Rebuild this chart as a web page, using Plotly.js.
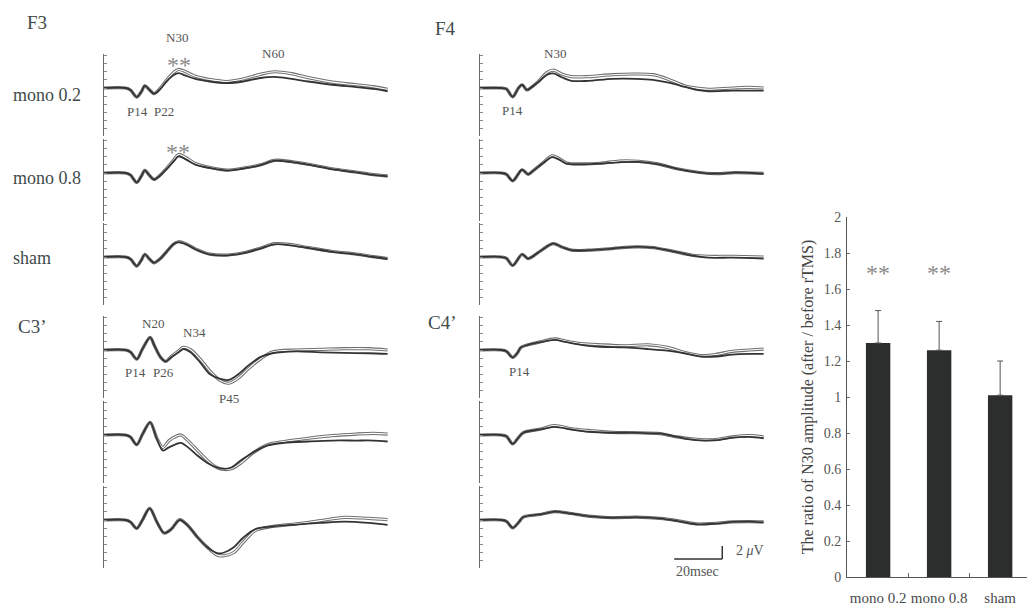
<!DOCTYPE html>
<html><head><meta charset="utf-8">
<script src="https://cdn.plot.ly/plotly-3.0.1.min.js"></script>
<style>html,body{margin:0;padding:0;background:#fff}</style>
</head><body><div id="chart" style="width:1027px;height:605px"></div>
<script>
// ===== Waveform data: time (ms) and amplitude (µV, plotted upward) =====
// F3
const f3_m02_t = [0, 9, 11, 13.6, 15.5, 17, 19, 20.8, 23, 26, 29, 31, 34, 38, 44, 51, 58, 65, 71, 78, 85, 95, 105, 112, 118];
const f3_m02_before = [0, 0, -0.3, -1.4, -0.6, 0.35, -0.3, -0.87, -0.3, 1.0, 2.0, 2.3, 1.9, 1.4, 1.0, 0.77, 1.0, 1.54, 1.7, 1.4, 1.0, 0.5, 0.15, -0.15, -0.5];
const f3_m02_after  = [0, 0, -0.3, -1.4, -0.6, 0.35, -0.3, -0.87, -0.2, 1.2, 2.4, 2.85, 2.5, 1.8, 1.3, 1.0, 1.4, 2.1, 2.5, 2.2, 1.6, 0.9, 0.5, 0.2, -0.2];
const f3_m08_t = f3_m02_t;
const f3_m08_before = [0, 0, -0.3, -1.45, -0.5, 0.4, -0.4, -1.0, -0.5, 0.6, 1.8, 2.55, 2.1, 1.3, 0.77, 0.4, 0.7, 1.2, 1.9, 1.7, 1.3, 0.6, 0.1, -0.3, -0.5];
const f3_m08_after  = [0, 0, -0.3, -1.45, -0.5, 0.4, -0.4, -1.0, -0.45, 0.7, 2.0, 2.85, 2.4, 1.45, 0.85, 0.45, 0.75, 1.25, 1.95, 1.75, 1.35, 0.65, 0.15, -0.25, -0.45];
const f3_sham_t = f3_m02_t;
const f3_sham_before = [0, 0, -0.3, -1.4, -0.5, 0.4, -0.35, -0.9, -0.4, 0.8, 2.0, 2.3, 2.0, 1.2, 0.4, 0.25, 0.6, 1.3, 1.95, 1.8, 1.4, 0.8, 0.4, 0.0, -0.3];
const f3_sham_after  = [0, 0, -0.3, -1.4, -0.5, 0.4, -0.35, -0.9, -0.4, 0.8, 2.0, 2.35, 2.05, 1.25, 0.45, 0.3, 0.65, 1.35, 2.05, 1.9, 1.45, 0.85, 0.45, 0.05, -0.25];
// C3'
const c3_m02_t = [0, 9, 11, 13.6, 16, 19.2, 21, 23.5, 25.7, 28, 31, 33, 36, 40, 44, 48, 52, 56, 60, 65, 70, 80, 90, 100, 110, 118];
const c3_m02_before = [0, 0, -0.3, -1.4, 0.15, 1.95, 0.65, -1.1, -1.75, -1.1, -0.35, 0.15, -0.35, -1.9, -3.7, -4.4, -4.6, -3.7, -2.4, -1.1, -0.5, -0.2, -0.35, -0.45, -0.5, -0.6];
const c3_m02_after  = [0, 0, -0.3, -1.4, 0.15, 1.95, 0.65, -1.1, -1.75, -1.0, -0.15, 0.4, 0.05, -1.4, -3.2, -4.6, -5.1, -4.3, -2.9, -1.4, -0.3, 0.0, 0.1, 0.2, 0.2, 0.0];
const c3_m08_t = [0, 9, 11, 13.6, 16, 19.2, 22, 24.5, 27, 30, 32, 35, 39, 43, 47, 50, 53, 57, 62, 68, 75, 85, 95, 105, 112, 118];
const c3_m08_before = [0, 0, -0.3, -1.5, 0.1, 1.95, -0.6, -2.4, -1.9, -1.4, -1.2, -1.9, -3.2, -4.3, -5.0, -5.2, -5.0, -3.9, -2.7, -1.6, -1.2, -1.0, -0.85, -0.85, -0.85, -1.0];
const c3_m08_after  = [0, 0, -0.3, -1.5, 0.1, 1.95, -0.5, -1.9, -0.9, -0.2, 0.0, -0.9, -2.4, -3.9, -5.0, -5.3, -5.2, -4.3, -2.75, -1.5, -1.0, -0.5, -0.1, 0.15, 0.25, 0.15];
const c3_sham_t = [0, 9, 11, 13.6, 16, 19, 22, 25, 28, 31.5, 35, 39, 43, 47, 50, 54, 58, 63, 70, 80, 90, 100, 110, 118];
const c3_sham_before = [0, 0, -0.3, -1.3, 0.0, 1.8, -0.3, -2.0, -1.4, 0.0, -0.9, -2.7, -4.2, -5.1, -5.0, -4.2, -2.7, -1.4, -1.0, -0.7, -0.45, -0.25, -0.45, -0.75];
const c3_sham_after  = [0, 0, -0.3, -1.3, 0.0, 1.8, -0.3, -2.0, -1.4, 0.05, -0.9, -2.7, -4.2, -5.4, -5.5, -5.0, -3.4, -1.6, -1.0, -0.6, -0.1, 0.4, 0.25, 0.05];
// F4
const f4_m02_t = [0, 9, 11, 13.6, 16, 17.5, 19.5, 21, 24, 28, 30.5, 34, 38, 45, 55, 65, 72, 78, 85, 90, 95, 105, 112, 118];
const f4_m02_before = [0, 0, -0.15, -1.35, 0, 0.5, -0.3, 0, 0.85, 2.05, 2.25, 1.65, 1.1, 1.1, 1.4, 1.4, 1.25, 0.85, 0.2, -0.3, -0.5, -0.4, -0.4, -0.4];
const f4_m02_after  = [0, 0, -0.15, -1.35, 0, 0.5, -0.3, 0, 0.9, 2.4, 2.75, 2.15, 1.75, 1.75, 2.05, 2.15, 2.05, 1.4, 0.35, 0, -0.2, 0, 0.1, 0];
const f4_m08_t = [0, 9, 11, 13.6, 17.5, 20, 22, 26, 30, 33, 36, 42, 50, 58, 66, 74, 82, 90, 98, 106, 113, 118];
const f4_m08_before = [0, 0, -0.2, -1.2, 0.5, -0.2, 0.3, 1.45, 2.45, 2.05, 1.45, 1.35, 1.45, 1.65, 1.7, 1.35, 0.65, 0.15, -0.1, 0.05, 0, -0.1];
const f4_m08_after  = [0, 0, -0.2, -1.2, 0.5, -0.2, 0.3, 1.5, 2.65, 2.2, 1.55, 1.4, 1.5, 1.85, 1.8, 1.4, 0.65, 0.15, -0.1, 0.05, 0, -0.05];
const f4_sham_t = [0, 9, 11, 13.6, 17.5, 20, 22, 26, 30.5, 34, 38, 45, 55, 65, 72, 80, 88, 95, 105, 118];
const f4_sham_before = [0, 0, -0.2, -1.3, 0.4, -0.25, 0.1, 1.15, 2.05, 1.55, 1.05, 1.05, 1.3, 1.55, 1.45, 0.9, 0.25, -0.1, -0.1, -0.25];
const f4_sham_after  = [0, 0, -0.2, -1.3, 0.4, -0.25, 0.1, 1.15, 2.05, 1.55, 1.05, 1.05, 1.3, 1.55, 1.45, 0.9, 0.3, 0.1, 0.1, 0];
// C4'
const c4_m02_t = [0, 9, 11, 13.6, 15.5, 17, 20, 25, 31, 36, 42, 50, 60, 70, 78, 85, 92, 98, 105, 112, 118];
const c4_m02_before = [0, 0, -0.2, -1.15, -0.5, 0.4, 0.8, 1.2, 1.55, 1.2, 0.8, 0.5, 0.4, 0.15, -0.1, -0.5, -1.0, -1.0, -0.7, -0.6, -0.6];
const c4_m02_after  = [0, 0, -0.2, -1.15, -0.5, 0.4, 0.8, 1.25, 1.7, 1.35, 1.0, 0.8, 0.65, 0.8, 0.4, -0.35, -0.85, -0.7, -0.2, 0, 0.15];
const c4_m08_t = [0, 9, 11, 13.6, 16, 18, 25, 31, 38, 45, 55, 65, 75, 82, 90, 98, 105, 112, 118];
const c4_m08_before = [0, 0, -0.2, -1.35, -0.4, 0.35, 0.85, 1.25, 0.85, 0.5, 0.35, 0.35, 0.2, -0.3, -0.8, -0.8, -0.4, -0.3, -0.5];
const c4_m08_after  = [0, 0, -0.2, -1.35, -0.4, 0.35, 0.9, 1.45, 0.95, 0.7, 0.4, 0.35, 0.2, -0.3, -0.65, -0.7, -0.3, -0.1, -0.3];
const c4_sham_t = c4_m08_t;
const c4_sham_before = [0, 0, -0.2, -1.2, -0.4, 0.45, 0.85, 1.3, 1.0, 0.6, 0.35, 0.45, 0.25, -0.15, -0.65, -0.55, -0.3, -0.25, -0.35];
const c4_sham_after  = [0, 0, -0.2, -1.2, -0.4, 0.45, 0.85, 1.3, 1.0, 0.6, 0.35, 0.45, 0.25, -0.1, -0.6, -0.5, -0.3, -0.25, -0.3];

// ===== Bar chart data =====
const barCategories = ['mono 0.2', 'mono 0.8', 'sham'];
const barValues = [1.30, 1.26, 1.01];
const barErrors = [0.18, 0.16, 0.19];
const barSignificance = ['**', '**', ''];
const barTicks = [0, 0.2, 0.4, 0.6, 0.8, 1, 1.2, 1.4, 1.6, 1.8, 2];

// scale bar
const scaleMs = 20, scaleUv = 2;

// ===== Layout helpers =====
const W = 1027, H = 605;
const px = x => x / W, py = y => 1 - y / H;
const SERIF = "'Liberation Serif', 'Times New Roman', serif";

const panels = [
  [f3_m02_t, f3_m02_before, f3_m02_after],
  [f3_m08_t, f3_m08_before, f3_m08_after],
  [f3_sham_t, f3_sham_before, f3_sham_after],
  [c3_m02_t, c3_m02_before, c3_m02_after],
  [c3_m08_t, c3_m08_before, c3_m08_after],
  [c3_sham_t, c3_sham_before, c3_sham_after],
  [f4_m02_t, f4_m02_before, f4_m02_after],
  [f4_m08_t, f4_m08_before, f4_m08_after],
  [f4_sham_t, f4_sham_before, f4_sham_after],
  [c4_m02_t, c4_m02_before, c4_m02_after],
  [c4_m08_t, c4_m08_before, c4_m08_after],
  [c4_sham_t, c4_sham_before, c4_sham_after]
];
const rowBase = [88, 173, 257, 350, 435, 520];
const colX = [[104, 390], [480, 766]];
const PXPERUV = 6.5, ABOVE = 34, BELOW = 48;

const data = [];
const layout = {
  width: W, height: H, autosize: false,
  margin: {l: 0, r: 0, t: 0, b: 0},
  paper_bgcolor: '#fff', plot_bgcolor: 'rgba(0,0,0,0)',
  showlegend: false,
  font: {family: SERIF, color: '#444'},
  annotations: [], shapes: []
};

panels.forEach((p, i) => {
  const n = i + 1, col = i < 6 ? 0 : 1, row = i % 6;
  const xa = 'x' + n, ya = 'y' + n;
  const line = {shape: 'spline', smoothing: 0.9};
  data.push({x: p[0], y: p[2], xaxis: xa, yaxis: ya, mode: 'lines', line: Object.assign({color: '#6f6f6f', width: 3.2}, line), hoverinfo: 'skip'});
  data.push({x: p[0], y: p[2], xaxis: xa, yaxis: ya, mode: 'lines', line: Object.assign({color: '#ffffff', width: 1.1}, line), hoverinfo: 'skip'});
  data.push({x: p[0], y: p[1], xaxis: xa, yaxis: ya, mode: 'lines', line: Object.assign({color: '#333333', width: 1.8}, line), hoverinfo: 'skip'});
  const b = rowBase[row];
  layout['xaxis' + n] = {domain: [px(colX[col][0]), px(colX[col][1])], range: [0, 119], anchor: ya,
    visible: false, fixedrange: true};
  layout['yaxis' + n] = {domain: [py(b + BELOW), py(b - ABOVE)], range: [-BELOW / PXPERUV, ABOVE / PXPERUV], anchor: xa,
    showline: true, linecolor: '#6a6a6a', linewidth: 1, ticks: 'inside', ticklen: 3, tickcolor: '#8a8a8a',
    tick0: 0, dtick: 1.25, showticklabels: false, showgrid: false, zeroline: false, fixedrange: true};
});

// Bar chart
data.push({type: 'bar', x: [0, 1, 2], y: barValues, xaxis: 'x13', yaxis: 'y13', width: 0.4,
  marker: {color: '#2b2e2c', line: {width: 0}},
  error_y: {type: 'data', symmetric: false, array: barErrors, arrayminus: [0, 0, 0], color: '#555', thickness: 1, width: 3},
  hoverinfo: 'skip'});
layout.xaxis13 = {domain: [px(847), 1], range: [-0.51, 2.44], anchor: 'y13',
  tickmode: 'array', tickvals: [0, 1, 2], ticktext: barCategories, ticks: '', ticklabelstandoff: 7, tickangle: 0,
  minor: {tickmode: 'array', tickvals: [0.5, 1.5], ticks: 'inside', ticklen: 4, tickcolor: '#666'},
  showline: true, linecolor: '#555', linewidth: 1, showgrid: false, zeroline: false,
  tickfont: {family: SERIF, size: 15, color: '#4a4a4a'}, fixedrange: true};
layout.yaxis13 = {domain: [py(577), py(217)], range: [0, 2], anchor: 'x13',
  tickmode: 'array', tickvals: barTicks,
  ticks: 'inside', ticklen: 3, tickcolor: '#666', ticklabelstandoff: 2,
  showline: true, linecolor: '#555', linewidth: 1, showgrid: false, zeroline: false,
  tickfont: {family: SERIF, size: 14, color: '#555'},
  title: {text: 'The ratio of N30 amplitude (after / before rTMS)', font: {family: SERIF, size: 16, color: '#444'}, standoff: 6},
  fixedrange: true};

barSignificance.forEach((s, i) => {
  if (s) layout.annotations.push({xref: 'x13', yref: 'y13', x: i, y: 1.69, text: s, showarrow: false,
    font: {family: SERIF, size: 24, color: '#8a8a8a'}, yanchor: 'middle'});
});

// Text labels (pixel positions -> paper)
function label(text, x, y, size, color) {
  layout.annotations.push({xref: 'paper', yref: 'paper', x: px(x), y: py(y), text: text, showarrow: false,
    xanchor: 'center', yanchor: 'middle', font: {family: SERIF, size: size, color: color}});
}
const MAIN = '#3f4b4a', PEAK = '#555555', STAR = '#8a8a8a';
label('F3', 37, 22, 19, MAIN);
label('F4', 445, 29, 19, MAIN);
label('C3’', 32, 326, 19, MAIN);
label('C4’', 442, 322, 19, MAIN);
label('mono 0.2', 47, 95, 18, MAIN);
label('mono 0.8', 47, 178, 18, MAIN);
label('sham', 32, 258, 18, MAIN);
label('N30', 177, 38, 13, PEAK);
label('N60', 273, 53, 13, PEAK);
label('P14', 137, 111, 13, PEAK);
label('P22', 164, 111, 13, PEAK);
label('**', 179, 65, 24, STAR);
label('**', 178, 152, 24, STAR);
label('N30', 555, 53, 13, PEAK);
label('P14', 512, 110, 13, PEAK);
label('N20', 153, 323, 13, PEAK);
label('N34', 194, 332, 13, PEAK);
label('P14', 135, 372, 13, PEAK);
label('P26', 163, 372, 13, PEAK);
label('P45', 229, 398, 13, PEAK);
label('P14', 519, 371, 13, PEAK);
label('2 <i>μ</i>V', 750, 550, 14, PEAK);
label('20msec', 697, 571, 14, PEAK);

// Scale bar in data units of the last waveform panel
const sbT = 80.8, sbV = -6.0;
layout.shapes.push({type: 'line', xref: 'x12', yref: 'y12', x0: sbT, x1: sbT + scaleMs, y0: sbV, y1: sbV, line: {color: '#333', width: 1.5}});
layout.shapes.push({type: 'line', xref: 'x12', yref: 'y12', x0: sbT + scaleMs, x1: sbT + scaleMs, y0: sbV, y1: sbV + scaleUv, line: {color: '#333', width: 1.5}});

Plotly.newPlot('chart', data, layout, {staticPlot: true, displayModeBar: false});
</script>
</body></html>
